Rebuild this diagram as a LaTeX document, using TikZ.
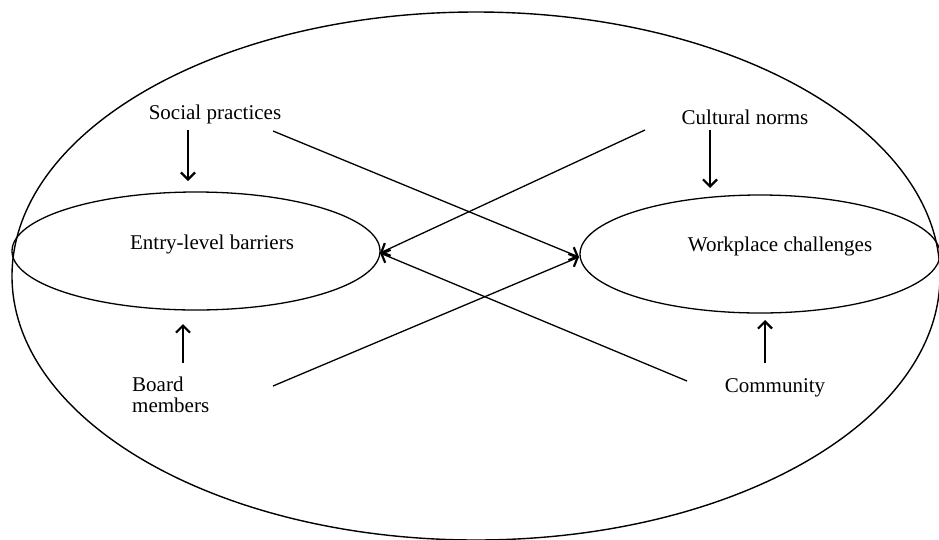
\documentclass[tikz,border=0pt]{standalone}
\usepackage{fontspec}
\setmainfont{Liberation Serif}
\usetikzlibrary{arrows.meta,shapes.geometric}
\begin{document}
\begin{tikzpicture}[x=1pt,y=-1pt,
  lbl/.style={font=\fontsize{21}{21}\selectfont,inner sep=0pt},
  oval/.style={draw,ellipse,line width=1.3pt,inner sep=0pt},
  conn/.style={line width=1.3pt,-{Straight Barb[length=7pt,width=14pt,line width=2.2pt]}},
  plainline/.style={line width=1.3pt}]
\useasboundingbox (0,0) rectangle (939,539);
\draw[line width=1.4pt] (476,276) ellipse [x radius=464, y radius=264];
\node[oval,minimum width=368pt,minimum height=118pt] (eb) at (196,251) {};
\node[oval,minimum width=360pt,minimum height=118pt] (wc) at (760,254) {};
\node[lbl] (ebt) at (212,244) {Entry-level barriers};
\node[lbl] (wct) at (780,246) {Workplace challenges};
\node[lbl] (sp) at (215,114) {Social practices};
\node[lbl] (cn) at (745,117) {Cultural norms};
\node[lbl,align=left,anchor=west] (bm) at (132,395) {Board\\members};
\node[lbl] (cm) at (775,388) {Community};
% vertical arrows
\coordinate (sp1) at (188,130); \coordinate (sp2) at (188,181);
\coordinate (cn1) at (710,130); \coordinate (cn2) at (710,188);
\coordinate (bm1) at (183,363); \coordinate (bm2) at (183,324);
\coordinate (cm1) at (765,363); \coordinate (cm2) at (765,320);
\draw[conn] (sp1) -- (sp2);
\draw[conn] (cn1) -- (cn2);
\draw[conn] (bm1) -- (bm2);
\draw[conn] (cm1) -- (cm2);
% crossing lines
\coordinate (spl) at (273,131);
\coordinate (cnl) at (645,130);
\coordinate (bml) at (273,386);
\coordinate (cml) at (687,381);
\coordinate (wcin) at (579,257);
\coordinate (ebin) at (380,253);
\draw[conn] (spl) -- (wcin);
\draw[conn] (bml) -- (wcin);
\draw[conn] (cnl) -- (ebin);
\draw[conn] (cml) -- (ebin);
\end{tikzpicture}
\end{document}
